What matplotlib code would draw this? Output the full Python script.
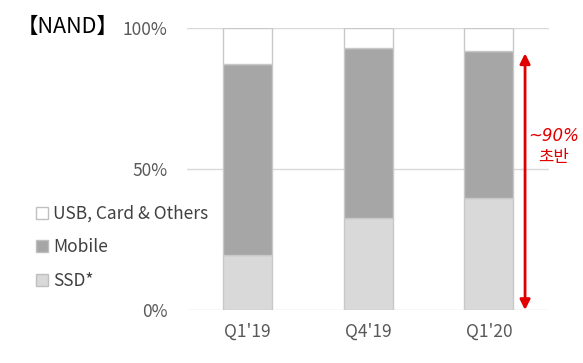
import numpy as np
import matplotlib.pyplot as plt
from matplotlib.patches import Patch

plt.rcParams['font.family'] = ['Noto Sans CJK KR', 'DejaVu Sans']

# 데이터 (%)
quarters = ["Q1'19", "Q4'19", "Q1'20"]
ssd = [19.5, 32.6, 39.8]
mobile = [67.7, 60.4, 52.2]
others = [100 - s - m for s, m in zip(ssd, mobile)]
series_names = ["USB, Card & Others", "Mobile", "SSD*"]
share_note = "~90%\n초반"
arrow_top = 91

fig = plt.figure(figsize=(5.83, 3.63), dpi=100)
ax = fig.add_axes([0.321, 0.146, 0.621, 0.777])

x = np.arange(len(quarters))
w = 0.405
edge = "#c8c8c8"
ax.bar(x, ssd, w, color="#d9d9d9", edgecolor=edge, linewidth=1, zorder=3)
ax.bar(x, mobile, w, bottom=ssd, color="#a6a6a6", edgecolor=edge, linewidth=1, zorder=3)
ax.bar(x, others, w, bottom=np.add(ssd, mobile), color="white", edgecolor=edge, linewidth=1, zorder=3)

ax.set_xlim(-0.5, 2.5)
ax.set_ylim(0, 100)
ax.set_yticks([0, 50, 100])
ax.set_yticklabels(["0%", "50%", "100%"])
ax.set_xticks(x)
ax.set_xticklabels(quarters)
ax.tick_params(length=0, labelsize=12.5, colors="#595959")
ax.tick_params(axis="x", pad=9)
ax.tick_params(axis="y", pad=14)
ax.grid(axis="y", color="#d9d9d9", linewidth=1, zorder=0)
for s in ax.spines.values():
    s.set_visible(False)

# 빨간 화살표
ax.annotate("", xy=(2.3, 0), xytext=(2.3, arrow_top),
            arrowprops=dict(arrowstyle="<|-|>", color="#e00000", lw=2,
                            mutation_scale=15, shrinkA=0, shrinkB=0))
ax.text(2.54, 58, share_note, color="#e00000", fontsize=12, style="italic",
        family=['DejaVu Sans', 'Noto Sans CJK KR'],
        ha="center", va="center", linespacing=1.2, clip_on=False)

fig.text(0.028, 0.925, "【NAND】", fontsize=15.5, color="black", va="center", ha="left")

handles = [Patch(facecolor="white", edgecolor="#bfbfbf"),
           Patch(facecolor="#a6a6a6", edgecolor="#bfbfbf"),
           Patch(facecolor="#d9d9d9", edgecolor="#bfbfbf")]
fig.legend(handles, series_names, loc="upper left", bbox_to_anchor=(0.035, 0.479),
           frameon=False, fontsize=12.5, handlelength=0.7, handleheight=0.7,
           handletextpad=0.3, labelspacing=0.9, labelcolor="#404040")

fig.savefig("out.png", dpi=100)
